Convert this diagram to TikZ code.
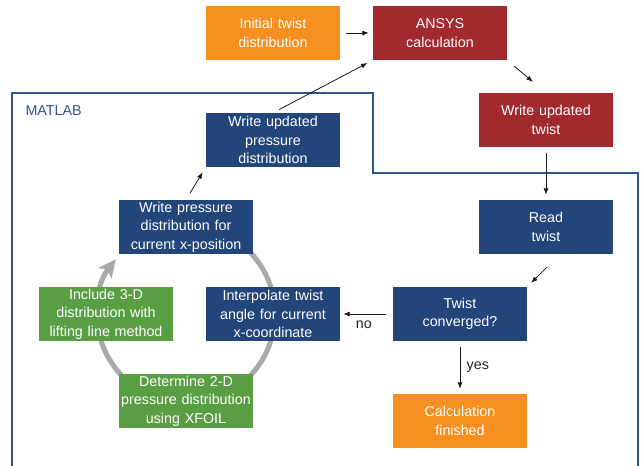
\documentclass[tikz,border=0pt]{standalone}
\usepackage{fontspec}
\setmainfont{Liberation Sans}
\usetikzlibrary{arrows.meta}

\begin{document}
\begin{tikzpicture}[x=1pt,y=-1pt,>={Latex[length=6.5pt,width=5pt]}]
    \definecolor{flowora}{HTML}{F58F1F}
    \definecolor{flowred}{HTML}{A2292D}
    \definecolor{flowblue}{HTML}{22457A}
    \definecolor{flowgreen}{HTML}{5A9E44}
    \definecolor{flowgray}{HTML}{A8A9AD}
    \definecolor{matblue}{HTML}{2E5292}
    \tikzset{
      box/.style={minimum width=134pt,minimum height=54pt,inner sep=0pt,
        text width=134pt,align=center,text=white,
        font=\fontsize{14.3}{18.5}\selectfont},
      arr/.style={->,line width=0.8pt,black!90},
      lbl/.style={text=black!85,font=\fontsize{14.3}{18.5}\selectfont}
    }
    \useasboundingbox (0,0) rectangle (641,466);
    % MATLAB Rahmen
    \draw[matblue,line width=2.2pt] (12,470) -- (12,93) -- (373,93)
      -- (373,173) -- (638,173) -- (638,470);
    \node[anchor=west,text=matblue,font=\fontsize{14.3}{18.5}\selectfont]
      (matlab) at (22,111) {MATLAB};
    % Kreislauf
    \draw[flowgray,line width=5pt,-{Stealth[length=18pt,width=17pt,inset=5pt]}]
      (186,314) ++(240:89) arc[start angle=240,end angle=578,radius=89];
    % Kaesten
    \node[box,fill=flowora] (init) at (273,33) {Initial twist\\distribution};
    \node[box,fill=flowred] (ansys) at (440,33) {ANSYS\\calculation};
    \node[box,fill=flowred] (wtwist) at (546,120) {Write updated\\twist};
    \node[box,fill=flowblue] (wpress) at (273,140) {Write updated\\pressure\\distribution};
    \node[box,fill=flowblue] (rtwist) at (546,227) {Read\\twist};
    \node[box,fill=flowblue] (conv) at (460,314) {Twist\\converged?};
    \node[box,fill=flowora] (finished) at (460,421) {Calculation\\finished};
    \node[box,fill=flowblue] (interp) at (273,314) {Interpolate twist\\angle for current\\x-coordinate};
    \node[box,fill=flowblue] (wpos) at (186,227) {Write pressure\\distribution for\\current x-position};
    \node[box,fill=flowgreen] (incl) at (106,314) {Include 3-D\\distribution with\\lifting line method};
    \node[box,fill=flowgreen] (xfoil) at (186,401) {Determine 2-D\\pressure distribution\\using XFOIL};
    % Pfeile
    \draw[arr,shorten <=6pt,shorten >=4pt] (init) -- (ansys);
    \draw[arr,shorten <=7pt,shorten >=6pt] (wpress.north) -- (ansys.south west);
    \draw[arr,shorten <=9pt,shorten >=17pt] (ansys.south east) -- (wtwist.north);
    \draw[arr,shorten <=6pt,shorten >=5pt] (wtwist) -- (rtwist);
    \draw[arr,shorten <=18pt,shorten >=5.5pt] ([xshift=14pt]rtwist.south) -- (conv.north east);
    \draw[arr,shorten <=7pt,shorten >=3pt] (conv) -- (interp)
      node[lbl,pos=0.55,below=3pt] (no) {no};
    \draw[arr,shorten <=6pt,shorten >=5pt] (conv) -- (finished)
      node[lbl,midway,right=3pt] (yes) {yes};
    \draw[arr,shorten <=8pt,shorten >=6pt] (wpos.north) -- (wpress.south west);
  \end{tikzpicture}
\end{document}
